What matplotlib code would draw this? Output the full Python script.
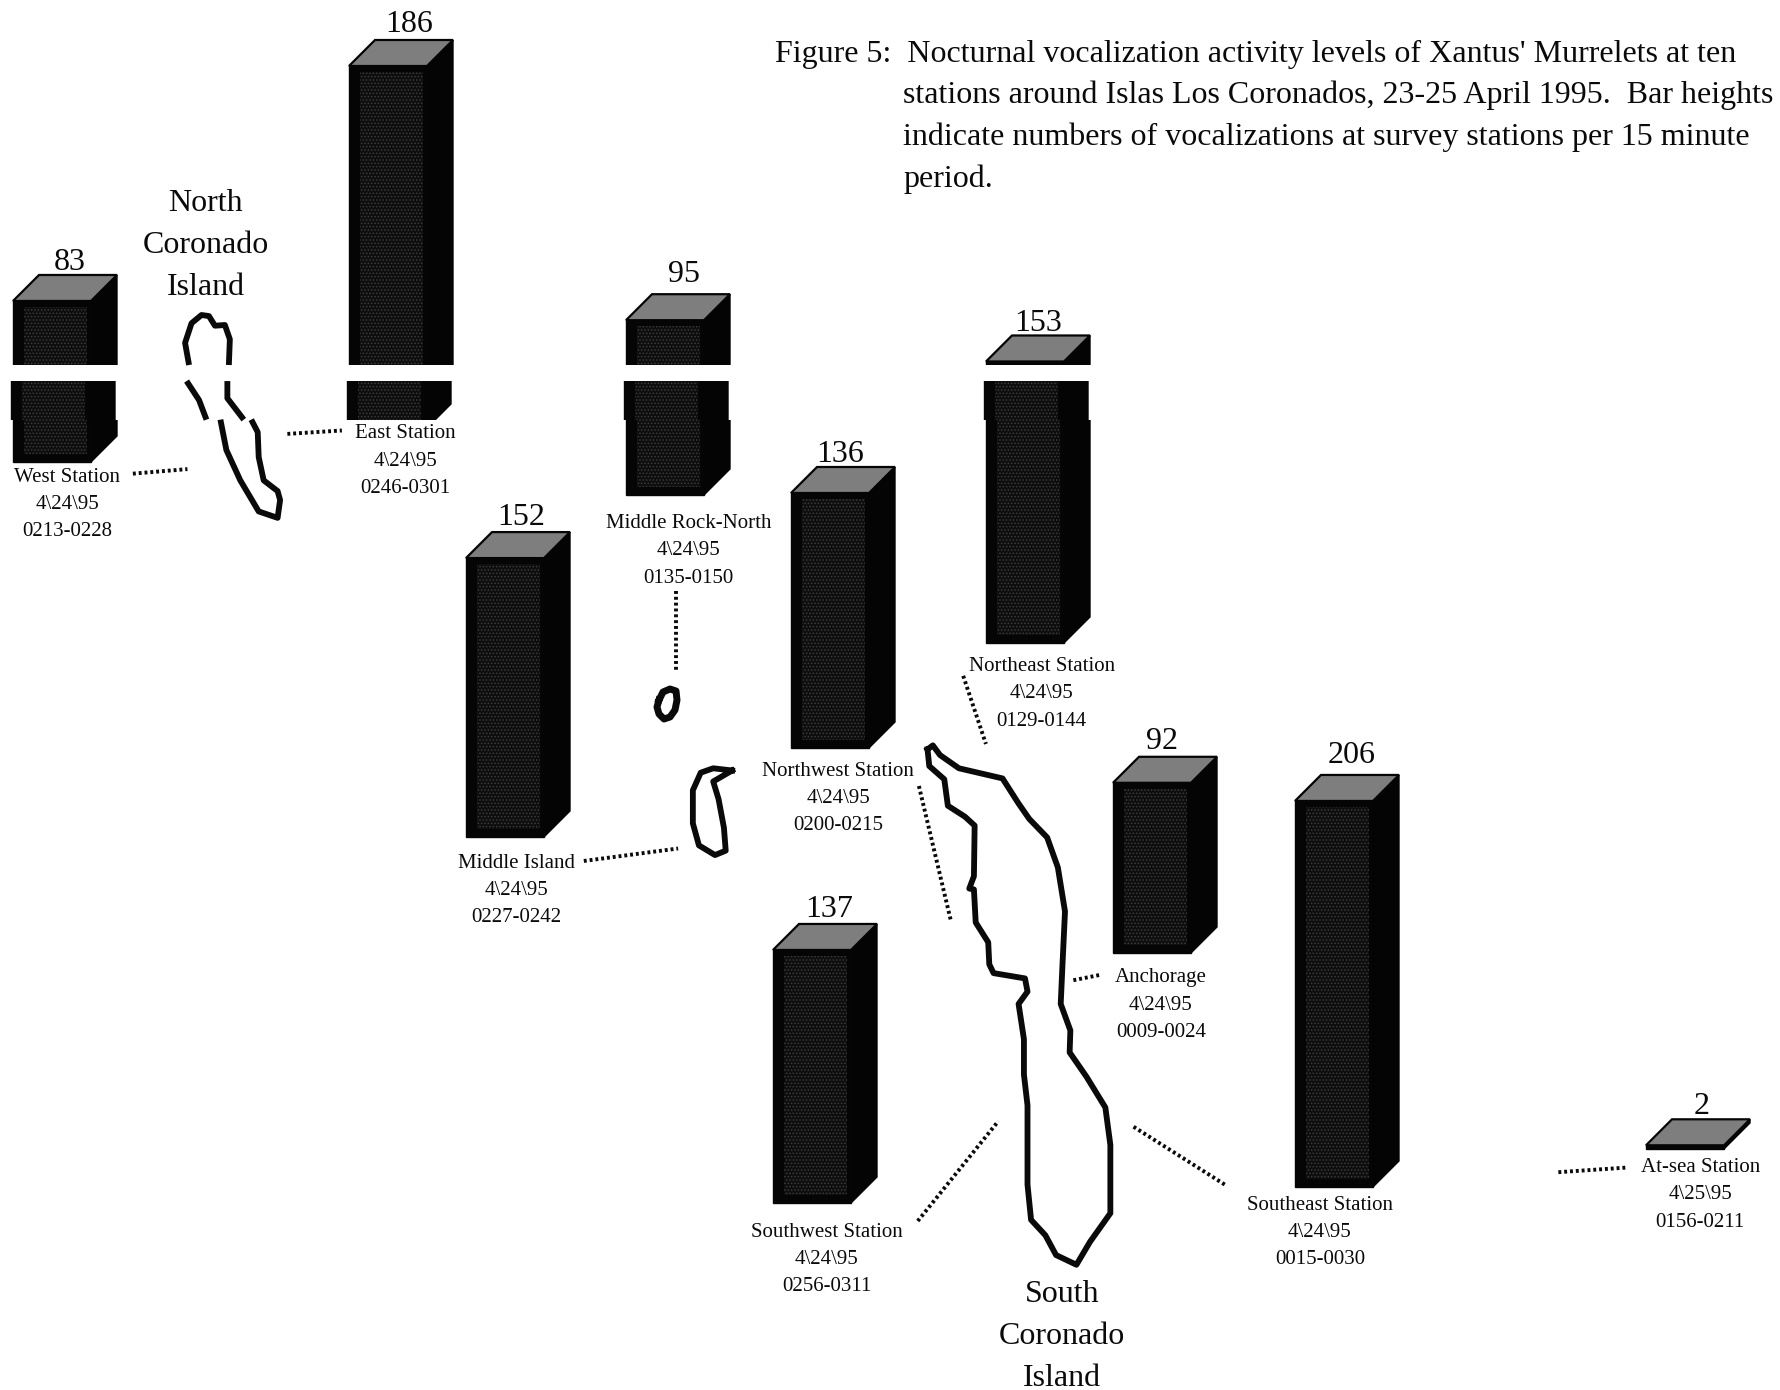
import numpy as np
import matplotlib
matplotlib.use('Agg')
import matplotlib.pyplot as plt
from matplotlib.patches import Polygon, Rectangle

stations = ['West Station', 'East Station', 'Middle Rock-North', 'Middle Island', 'Northwest Station',
            'Northeast Station', 'Anchorage', 'Southwest Station', 'Southeast Station', 'At-sea Station']
dates = ['4\\24\\95'] * 9 + ['4\\25\\95']
times = ['0213-0228', '0246-0301', '0135-0150', '0227-0242', '0200-0215',
         '0129-0144', '0009-0024', '0256-0311', '0015-0030', '0156-0211']
counts = [83, 186, 95, 152, 136, 153, 92, 137, 206, 2]

# layout in full size pixels
bar_x = [13, 349, 626, 466, 791, 986, 1113, 773, 1295, 1646]
bar_base = [462, 430, 495, 837, 748, 643, 953, 1203, 1187, 1149]
bar_scale = [1.94, 1.957, 1.84, 1.835, 1.875, 1.84, 1.85, 1.847, 1.874, 1.85]
broken = [True, True, True, False, False, True, False, False, False, False]
count_xy = [(61, 231), (360, 22), (602, 242), (459, 456), (740, 400),
            (914, 285), (1023, 653), (730, 801), (1190, 665), (1498, 974)]
label_xy = [(59, 420), (357, 382), (606, 461), (455, 760), (738, 679),
            (917, 587), (1022, 861), (728, 1085), (1162, 1061), (1497, 1028)]
leaders = [[(117, 417), (165, 413)], [(253, 382), (301, 379)], [(595, 520), (595, 590)],
           [(514, 758), (597, 747)], [(809, 692), (837, 810)], [(848, 595), (868, 655)],
           [(945, 863), (970, 858)], [(808, 1075), (879, 987)], [(998, 992), (1080, 1044)],
           [(1372, 1032), (1431, 1028)]]

caption = ["Figure 5:  Nocturnal vocalization activity levels of Xantus' Murrelets at ten",
           "stations around Islas Los Coronados, 23-25 April 1995.  Bar heights",
           "indicate numbers of vocalizations at survey stations per 15 minute",
           "period."]

# island outlines
south_z = [(805, 112), (820, 103), (840, 125), (893, 155), (1015, 178), (1060, 235), (1090, 270), (1140, 312),
           (1170, 380), (1190, 480), (1183, 600), (1178, 690), (1205, 750), (1203, 800), (1250, 855), (1303, 925),
           (1317, 1010), (1317, 1165), (1260, 1230), (1222, 1282), (1165, 1260), (1135, 1215), (1095, 1180),
           (1085, 1100), (1085, 920), (1075, 850), (1075, 770), (1060, 690), (1085, 662), (1078, 632), (990, 620),
           (978, 600), (975, 550), (940, 505), (935, 430), (922, 428), (935, 400), (937, 285), (910, 265),
           (862, 240), (852, 180), (810, 150), (805, 112)]
middle_z = [(258, 160), (205, 155), (170, 165), (148, 205), (148, 280), (165, 330), (210, 352), (240, 342),
            (235, 290), (220, 225), (205, 185), (258, 160)]
north_z = [[(380, 1022), (372, 960), (385, 905), (405, 882), (420, 885), (432, 912), (452, 910), (462, 950), (460, 1022)],
           [(375, 1067), (400, 1120), (415, 1175)],
           [(457, 1067), (457, 1115), (490, 1175)],
           [(505, 1175), (518, 1210), (520, 1280), (530, 1345), (558, 1375), (563, 1400), (558, 1450), (520, 1432),
            (483, 1345), (455, 1260), (443, 1175)]]
rock = [(659, 700), (663, 692), (670, 689), (676, 691), (677, 700), (675, 710), (670, 717), (664, 719), (659, 714),
        (657, 707), (659, 700)]

k = 1781 / 1568
DX, DY, W = 26, 26, 78
SERIF = 'Liberation Serif'
INK = '#0a0a0a'
plt.rcParams['hatch.linewidth'] = 0.7

fig = plt.figure(figsize=(17.81, 13.90), dpi=100)
ax = fig.add_axes([0, 0, 1, 1])
ax.set_xlim(0, 1781)
ax.set_ylim(1390, 0)
ax.axis('off')


def draw_bar(x0, top, base, off=0, clip=None):
    x0 = x0 + off
    parts = [
        Polygon([(x0, top), (x0 + W, top), (x0 + W, base), (x0, base)], fc='#050505', ec='#050505', lw=1),
        Polygon([(x0 + W, top), (x0 + W + DX, top - DY), (x0 + W + DX, base - DY), (x0 + W, base)],
                fc='#040404', ec='#040404', lw=1),
        Polygon([(x0, top), (x0 + DX, top - DY), (x0 + W + DX, top - DY), (x0 + W, top)],
                fc='#7e7e7e', ec='#050505', lw=1.6),
    ]
    if base - top > 30:
        parts.append(Rectangle((x0 + 11, top + 6), W - 15, base - top - 14, fc='#0e0e0e', ec='#3a3a3a', lw=0,
                               hatch='.....'))
    for p in parts:
        ax.add_patch(p)
        if clip is not None:
            p.set_clip_path(Rectangle((0, clip[0]), 1781, clip[1] - clip[0], transform=ax.transData))


for i in range(len(counts)):
    front_top = bar_base[i] - counts[i] * bar_scale[i]
    if broken[i]:
        draw_bar(bar_x[i], front_top, bar_base[i], clip=(0, 365))
        draw_bar(bar_x[i], front_top, bar_base[i], off=-2, clip=(381, 420))
        if stations[i] != 'East Station':
            draw_bar(bar_x[i], front_top, bar_base[i], clip=(420, 1390))
    else:
        draw_bar(bar_x[i], front_top, bar_base[i])

    cx, cy = count_xy[i]
    ax.text(cx * k, cy * k, str(counts[i]), family=SERIF, fontsize=23, ha='center', va='center', color=INK)
    lx, ly = label_xy[i]
    for j, s in enumerate([stations[i], dates[i], times[i]]):
        ax.text(lx * k, (ly + j * 24) * k, s, family=SERIF, fontsize=15, ha='center', va='center', color=INK)
    pts = np.array(leaders[i]) * k
    ax.plot(pts[:, 0], pts[:, 1], color=INK, lw=2.8, ls=(0, (0.75, 0.75)))

# islands
s = np.array(south_z, dtype=float)
ax.plot(640 + s[:, 0] / 2.8, 700 + s[:, 1] / 2.27, color=INK, lw=4.2, solid_joinstyle='round')
s = np.array(middle_z, dtype=float)
ax.plot(640 + s[:, 0] / 2.8, 700 + s[:, 1] / 2.27, color=INK, lw=4.2, solid_joinstyle='round')
for part in north_z:
    s = np.array(part, dtype=float)
    ax.plot(s[:, 0] / 2.01, s[:, 1] / 2.8, color=INK, lw=4.2, solid_capstyle='butt')
s = np.array(rock, dtype=float)
ax.plot(s[:, 0], s[:, 1], color=INK, lw=5, solid_joinstyle='round')

for name, x, y0 in [(['North', 'Coronado', 'Island'], 181, 179), (['South', 'Coronado', 'Island'], 935, 1140)]:
    for j, t in enumerate(name):
        ax.text(x * k, (y0 + j * 37) * k, t, family=SERIF, fontsize=23, ha='center', va='center', color=INK)

ax.text(682 * k, 48 * k, caption[0], family=SERIF, fontsize=23, ha='left', va='center', color=INK)
for j in range(1, 4):
    ax.text(795 * k, (47 + j * 37) * k, caption[j], family=SERIF, fontsize=23, ha='left', va='center', color=INK)

fig.savefig('out.png', dpi=100, facecolor='white')
